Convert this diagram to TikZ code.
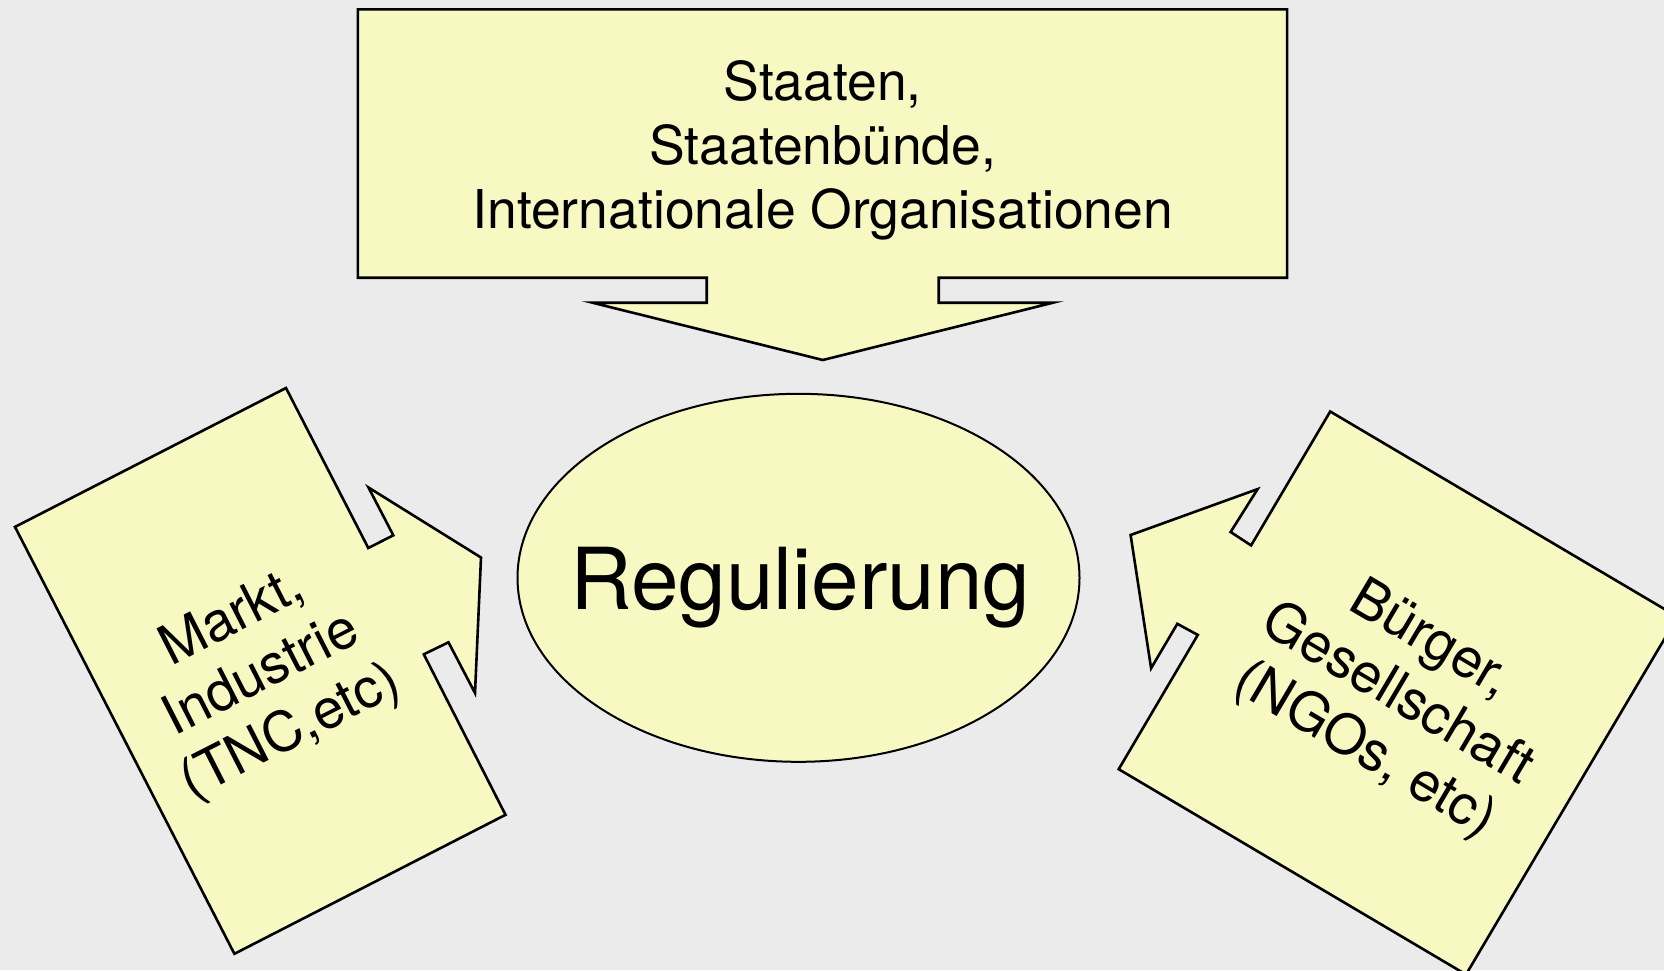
\documentclass[tikz,border=0pt]{standalone}
\usepackage{fontspec}
\setmainfont{TeX Gyre Heros}
\usetikzlibrary{shapes.geometric}
\definecolor{boxfill}{RGB}{248,248,194}
\definecolor{bgcol}{RGB}{235,235,235}
\tikzset{
  calloutshape/.style={fill=boxfill, draw=black, line width=2.6pt, line join=miter},
  labeltext/.style={inner sep=0pt, align=center, text=black, font=\fontsize{55}{64}\selectfont},
}
\begin{document}
\begin{tikzpicture}[x=1pt, y=-1pt]
  \fill[bgcol] (0,0) rectangle (1664,970);
  \clip (0,0) rectangle (1664,970);
  % top callout (down arrow)
  \draw[calloutshape] (357.9,9.3) -- (1287.1,9.3) -- (1287.1,277.7) -- (938.7,277.7)
    -- (938.7,302.7) -- (1053,302.7) -- (822.8,360) -- (592.5,302.7) -- (706.7,302.7)
    -- (706.7,277.7) -- (357.9,277.7) -- cycle;
  % left callout (arrow to the right)
  \draw[calloutshape] (15,526.9) -- (286,388) -- (368.3,548) -- (393.3,535.3)
    -- (368.5,487.5) -- (481,557.5) -- (475,693) -- (448.5,642.3) -- (423.8,654.3)
    -- (505.5,814.8) -- (234.4,953.8) -- cycle;
  % right callout (arrow to the left)
  \draw[calloutshape] (1330.2,411.5) -- (1677.5,616.8) -- (1466,974.5) -- (1118.7,769.2)
    -- (1197.8,634.9) -- (1177.3,623.8) -- (1151.1,668.2) -- (1130.6,535)
    -- (1257.6,489.1) -- (1230.6,532) -- (1251.1,545.4) -- cycle;
  % central ellipse
  \node[ellipse, fill=boxfill, draw=black, line width=2pt, minimum width=562pt,
        minimum height=368pt, inner sep=0pt] (reg) at (798.5,577.8) {};
  \node[anchor=base, inner sep=0pt, font=\fontsize{85.5}{100}\selectfont] (regtext)
        at (800.4,609.3) {Regulierung};
  % texts
  \node[labeltext, font=\fontsize{53.5}{64}\selectfont] (staaten) at (822.7,150)
        {Staaten,\\Staatenbünde,\\Internationale Organisationen};
  \node[labeltext, rotate=27] (markt) at (262,676)
        {Markt,\\Industrie\\(TNC,etc)};
  \node[labeltext, rotate=-30.6] (buerger) at (1397,696)
        {Bürger,\\Gesellschaft\\(NGOs, etc)};
\end{tikzpicture}
\end{document}
